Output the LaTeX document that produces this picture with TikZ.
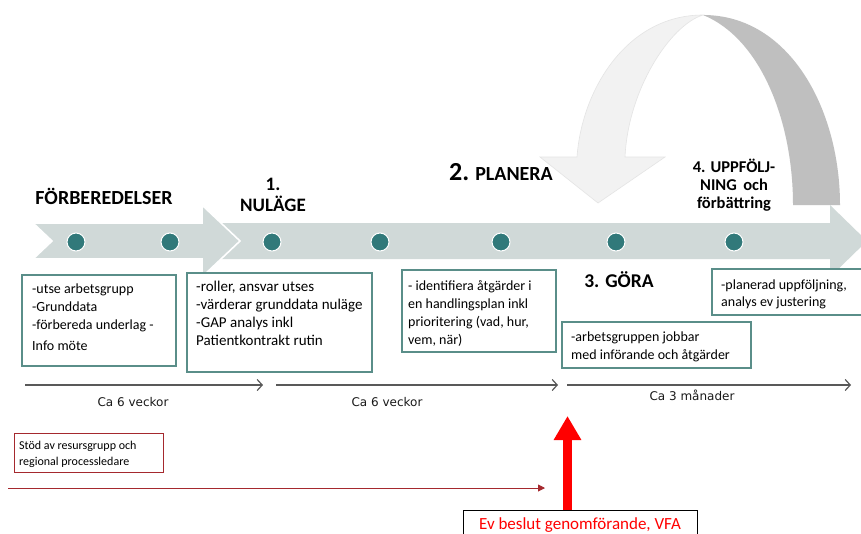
\documentclass[tikz,border=0pt]{standalone}
\usepackage{fontspec}
\setmainfont{Carlito}
\newfontfamily\dejavu{DejaVu Sans}
\usetikzlibrary{arrows.meta}
\definecolor{bandc}{HTML}{D0D9D8}
\definecolor{dotc}{HTML}{31797A}
\definecolor{boxc}{HTML}{5A8E89}
\definecolor{lightarr}{HTML}{F2F2F2}
\definecolor{lightedge}{HTML}{E4E4E4}
\definecolor{darkarr}{HTML}{BFBFBF}
\definecolor{lineg}{HTML}{595959}
\definecolor{darkred}{HTML}{A5292E}
\begin{document}
\begin{tikzpicture}[x=1pt,y=-1pt,
  dotn/.style={circle,fill=dotc,draw=white,line width=1pt,minimum size=18pt,inner sep=0pt},
  tbox/.style={draw=boxc,line width=1.1pt,rectangle,inner sep=0pt,fill=white},
  btext/.style={inner sep=0pt,anchor=base west,font=\fontsize{14}{18.3}\selectfont},
  title/.style={inner sep=0pt,anchor=base,font=\bfseries\fontsize{20}{21}\selectfont},
  tline/.style={draw=lineg,line width=1.3pt,-{Straight Barb[length=5pt,width=11pt,line width=1.2pt]}},
  tlabel/.style={inner sep=0pt,anchor=base,font=\dejavu\fontsize{12}{13}\selectfont,text=black!90},
]
\clip (0,0) rectangle (861,533);
\fill[white] (0,0) rectangle (861,533);

% curved feedback arrow
\fill[darkarr] (703,15) .. controls (790,15) and (840,110) .. (840,205)
  -- (793,205) .. controls (793,120) and (760,38) .. (703,15) -- cycle;
\filldraw[fill=lightarr,draw=lightedge,line width=0.6pt]
  (540,157) -- (577,157) .. controls (582,88) and (628,15) .. (703,15)
  .. controls (670,25) and (628,90) .. (625,157) -- (665,157) -- (598,203) -- cycle;

% band with arrow head
\fill[bandc] (205,223) -- (830,223) -- (830,205) -- (867,241) -- (830,277) -- (830,259) -- (205,259) -- cycle;
% first chevron
\filldraw[fill=bandc,draw=white,line width=1.6pt,line join=miter]
  (33,223) -- (202,223) -- (202,205) -- (240,241) -- (202,277) -- (202,259) -- (33,259) -- (52,241) -- cycle;

% dots
\foreach \nm/\xx in {d1/76,d2/170,d3/272,d4/380,d5/501,d6/616,d7/734}
  \node[dotn] (\nm) at (\xx,242) {};

% titles
\node[title] (forb) at (104,204) {FÖRBEREDELSER};
\node[title,font=\bfseries\fontsize{19}{21}\selectfont] (nul) at (273,190) {\parbox[t]{100pt}{\centering 1.\\NULÄGE}};
\node[title] (plan) at (501,180) {{\fontsize{26}{26}\selectfont 2.} PLANERA};
\node[title,font=\bfseries\fontsize{19.5}{21}\selectfont] (gora) at (619,287) {3. GÖRA};
\node[title,font=\bfseries\fontsize{16.5}{18.2}\selectfont] (uppf) at (734,172) {\parbox[t]{110pt}{\centering 4. UPPFÖLJ-\\NING\, och\\förbättring}};

% text boxes
\node[tbox,minimum width=154pt,minimum height=91pt] (b1) at (99,320.5) {};
\node[btext] (t1) at (32,293) {\parbox[t]{150pt}{-utse arbetsgrupp\\-Grunddata\\-förbereda underlag -\\[3pt]Info möte}};
\node[tbox,minimum width=185pt,minimum height=99pt] (b2) at (279.5,322.5) {};
\node[btext,font=\fontsize{15}{18.3}\selectfont] (t2) at (196,291) {\parbox[t]{180pt}{-roller, ansvar utses\\-värderar grunddata nuläge\\-GAP analys inkl\\Patientkontrakt rutin}};
\node[tbox,minimum width=154pt,minimum height=82pt] (b3) at (479,311) {};
\node[btext] (t3) at (408,290) {\parbox[t]{150pt}{- identifiera åtgärder i\\en handlingsplan inkl\\prioritering (vad, hur,\\vem, när)}};
\node[tbox,minimum width=189pt,minimum height=46pt] (b4) at (656.5,345) {};
\node[btext] (t4) at (571,341) {\parbox[t]{185pt}{-arbetsgruppen jobbar\\med införande och åtgärder}};
\node[tbox,minimum width=156pt,minimum height=46pt] (b5) at (790,292) {};
\node[btext,font=\fontsize{14}{17.5}\selectfont] (t5) at (721,289) {\parbox[t]{150pt}{-planerad uppföljning,\\analys ev justering}};

% time lines
\coordinate (a1s) at (25,385); \coordinate (a1e) at (263,385);
\coordinate (a2s) at (276,385); \coordinate (a2e) at (558,385);
\coordinate (a3s) at (567,385); \coordinate (a3e) at (851,385);
\draw[tline] (a1s) -- (a1e);
\draw[tline] (a2s) -- (a2e);
\draw[tline] (a3s) -- (a3e);
\node[tlabel] (l1) at (133,406) {Ca 6 veckor};
\node[tlabel] (l2) at (387,406) {Ca 6 veckor};
\node[tlabel] (l3) at (692,400) {Ca 3 månader};

% support box and red line
\node[draw=darkred,line width=0.9pt,minimum width=149pt,minimum height=39pt,inner sep=0pt] (stod) at (88.5,452.5) {};
\node[inner sep=0pt,anchor=base west,font=\fontsize{12}{16}\selectfont] (stodt) at (19,449) {\parbox[t]{140pt}{Stöd av resursgrupp och\\regional processledare}};
\coordinate (rs) at (8,488); \coordinate (re) at (545,488);
\draw[draw=darkred,line width=0.9pt,-{Triangle[length=7pt,width=7pt]}] (rs) -- (re);

% decision box and big red arrow
\node[draw=black,line width=0.9pt,minimum width=234pt,minimum height=36pt,inner sep=0pt,anchor=north west] (ev) at (463,510) {};
\node[inner sep=0pt,anchor=base,font=\fontsize{17}{20}\selectfont,text=red] (evt) at (580,529) {Ev beslut genomförande, VFA};
\coordinate (redtip) at (567.5,416);
\draw[red,line width=9pt,-{Triangle[length=24pt,width=26pt]}] (redtip |- ev.north) -- (redtip);
\end{tikzpicture}
\end{document}
